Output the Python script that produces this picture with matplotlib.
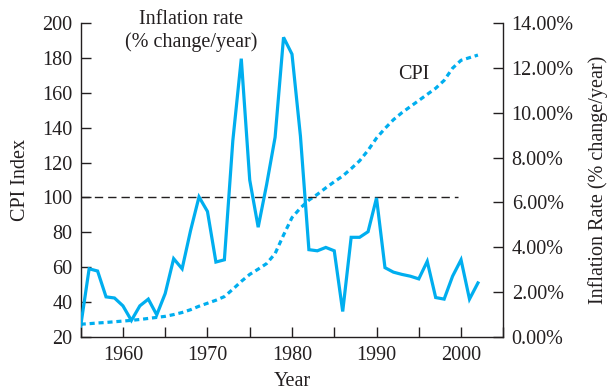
import numpy as np
import matplotlib
matplotlib.use("Agg")
import matplotlib.pyplot as plt
from matplotlib.ticker import FuncFormatter

plt.rcParams['font.family'] = ['Liberation Serif', 'DejaVu Serif']

years = np.arange(1955, 2003)

# December CPI index (1982-84 = 100)
cpi = [27.5, 27.8, 28.2, 28.5, 28.9, 29.3, 29.7, 30.2, 30.8, 31.4,
       32.0, 33.0, 34.2, 35.8, 37.8, 39.5, 41.2, 43.3, 47.5, 52.0,
       56.0, 59.0, 62.2, 67.9, 78.5, 88.5, 94.0, 98.5, 101.8, 105.5,
       109.0, 112.3, 116.5, 121.0, 127.0, 134.0, 139.5, 144.5, 148.5, 152.0,
       155.5, 159.0, 162.5, 167.0, 174.0, 178.5, 180.0, 181.5]

# inflation rate, % change December to December
inflation = [0.5, 3.05, 2.95, 1.8, 1.75, 1.4, 0.75, 1.4, 1.7, 1.0,
             1.95, 3.5, 3.05, 4.75, 6.25, 5.6, 3.35, 3.45, 8.75, 12.4,
             7.0, 4.9, 6.8, 8.9, 13.35, 12.6, 8.95, 3.9, 3.85, 4.0,
             3.85, 1.15, 4.45, 4.45, 4.7, 6.2, 3.1, 2.9, 2.8, 2.72,
             2.6, 3.38, 1.77, 1.7, 2.72, 3.45, 1.7, 2.42]

cpi_ticks = [20, 40, 60, 80, 100, 120, 140, 160, 180, 200]
rate_ticks = [0, 2, 4, 6, 8, 10, 12, 14]
year_ticks = [1955, 1960, 1965, 1970, 1975, 1980, 1985, 1990, 1995, 2000, 2005]
year_labels = ['', '1960', '', '1970', '', '1980', '', '1990', '', '2000', '']

blue = '#00AEEF'
ink = '#231F20'
fs = 14.5

fig = plt.figure(figsize=(6.08, 3.91), dpi=100)
ax = fig.add_axes([0.1327, 0.1373, 0.6951, 0.8046])
ax2 = ax.twinx()

# CPI on the left axis
ax.plot(years, cpi, color=blue, lw=2.3, linestyle=(0, (1.6, 1.2)))
ax.hlines(100, 1955, 1999.6, colors=ink, lw=1.0, linestyles=(0, (6, 3.6)))

# inflation rate on the right axis
ax2.plot(years, inflation, color=blue, lw=2.3, solid_joinstyle='miter')

ax.set_xlim(1955, 2005)
ax.set_ylim(20, 200)
ax2.set_ylim(0, 14)

ax.set_xticks(year_ticks)
ax.set_xticklabels(year_labels)
ax.set_yticks(cpi_ticks)
ax2.set_yticks(rate_ticks)
ax2.yaxis.set_major_formatter(FuncFormatter(lambda v, p: f'{v:.2f}%'))

for a in (ax, ax2):
    a.spines['top'].set_visible(False)
    for s in a.spines.values():
        s.set_color(ink)
        s.set_linewidth(1.0)
    a.tick_params(direction='in', length=7.5, width=1.0, color=ink,
                  labelcolor=ink, labelsize=fs, pad=6)
ax.spines['right'].set_visible(False)
ax2.spines['left'].set_visible(False)
ax2.spines['bottom'].set_visible(False)

ax.set_xlabel('Year', fontsize=fs, color=ink)
ax.xaxis.set_label_coords(0.5, -0.11)
ax.set_ylabel('CPI Index', fontsize=fs, color=ink)
ax.yaxis.set_label_coords(-0.142, 0.5)
ax.yaxis.label.set_verticalalignment('center')
ax2.set_ylabel('Inflation Rate (% change/year)', fontsize=fs, color=ink,
               rotation=90)
ax2.yaxis.set_label_coords(1.225, 0.5)
ax2.yaxis.label.set_verticalalignment('center')

ax.text(1968.1, 195.3, 'Inflation rate\n(% change/year)', ha='center',
        va='center', fontsize=fs, color=ink, linespacing=1.28)
ax.text(1994.4, 170.1, 'CPI', ha='center', va='center', fontsize=fs,
        color=ink)

fig.savefig('out.png', dpi=100)
